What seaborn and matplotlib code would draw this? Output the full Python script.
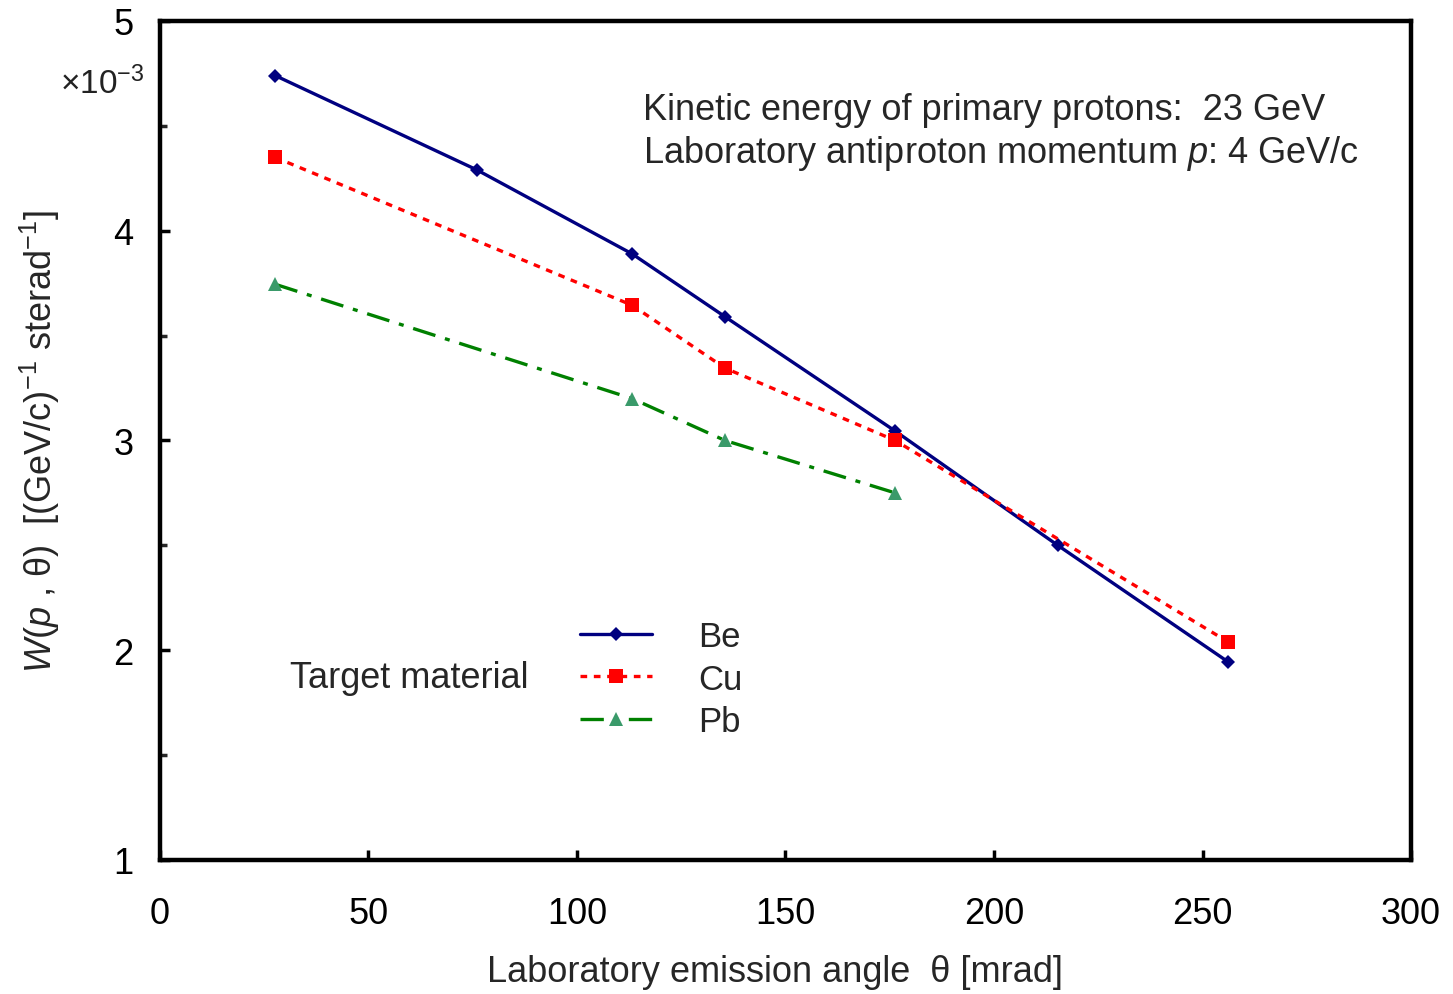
import matplotlib
matplotlib.use("Agg")
import matplotlib.pyplot as plt
import seaborn as sns
import pandas as pd
from matplotlib.ticker import MultipleLocator

# ---- data ----
be_angle = [27.6, 76.0, 113.2, 135.5, 176.3, 215.3, 256.1]
be_w = [4.74, 4.29, 3.89, 3.59, 3.045, 2.50, 1.945]
cu_angle = [27.6, 113.2, 135.5, 176.3, 256.1]
cu_w = [4.35, 3.645, 3.345, 3.00, 2.04]
pb_angle = [27.6, 113.2, 135.5, 176.3]
pb_w = [3.745, 3.20, 3.00, 2.75]
x_ticks = [0, 50, 100, 150, 200, 250, 300]
y_ticks = [1, 2, 3, 4, 5]

sns.set_theme(style="white")
plt.rcParams['font.family'] = ['Liberation Sans', 'DejaVu Sans']
plt.rcParams['mathtext.fontset'] = 'custom'
plt.rcParams['mathtext.rm'] = 'Liberation Sans'
plt.rcParams['mathtext.it'] = 'Liberation Sans:italic'

FS = 26

fig = plt.figure(figsize=(14.53, 9.95), dpi=100)
ax = fig.add_axes([0.1101, 0.1347, 0.861, 0.8432])

df_be = pd.DataFrame({"x": be_angle, "y": be_w})
df_cu = pd.DataFrame({"x": cu_angle, "y": cu_w})
df_pb = pd.DataFrame({"x": pb_angle, "y": pb_w})

sns.lineplot(data=df_be, x="x", y="y", ax=ax, color="#000080", lw=2.4,
             marker="D", markersize=7, markeredgewidth=0, label="Be")
sns.lineplot(data=df_cu, x="x", y="y", ax=ax, color="#ff0000", lw=2.4,
             dashes=(2, 2), marker="s", markersize=10, markeredgewidth=0, label="Cu")
sns.lineplot(data=df_pb, x="x", y="y", ax=ax, color="#008000", lw=2.4,
             dashes=(7, 3, 1.5, 3), marker="^", markersize=10,
             markerfacecolor="#3a9a6a", markeredgewidth=0, label="Pb")

ax.set_xlim(0, 300)
ax.set_ylim(1, 5)
ax.set_xticks(x_ticks)
ax.set_yticks(y_ticks)
ax.yaxis.set_minor_locator(MultipleLocator(0.5))
ax.tick_params(axis="both", which="major", direction="in", length=7, width=2.5,
               labelsize=FS, colors="black")
ax.tick_params(axis="x", which="major", pad=26, bottom=True)
ax.tick_params(axis="y", which="major", pad=19, left=True)
ax.tick_params(axis="y", which="minor", direction="in", length=5, width=2.5, left=True)
for s in ax.spines.values():
    s.set_visible(True)
    s.set_color("black")
    s.set_linewidth(3.2)

ax.set_xlabel("Laboratory emission angle  θ [mrad]", fontsize=FS)
ax.xaxis.set_label_coords(0.492, -0.112)
ax.set_ylabel(r"$W$($p$ , θ)  [(GeV/c)$^{-1}$ sterad$^{-1}$]", fontsize=FS)
ax.yaxis.set_label_coords(-0.078, 0.5)

fig.text(0.041, 0.905, r"$\times$10$^{-3}$", fontsize=24, color="#222222")

ax.text(0.386, 0.895, "Kinetic energy of primary protons:  23 GeV", transform=ax.transAxes,
        fontsize=FS, va="center")
ax.text(0.386, 0.843, r"Laboratory antiproton momentum $p$: 4 GeV/c", transform=ax.transAxes,
        fontsize=FS, va="center")

leg = ax.legend(loc="center left", bbox_to_anchor=(0.3357, 0.2157), frameon=False,
                fontsize=25, handlelength=2.07, handletextpad=1.33, labelspacing=0.28,
                borderaxespad=0, borderpad=0)
ax.text(0.104, 0.217, "Target material", transform=ax.transAxes, fontsize=FS, va="center")

fig.savefig("out.png", dpi=100)
